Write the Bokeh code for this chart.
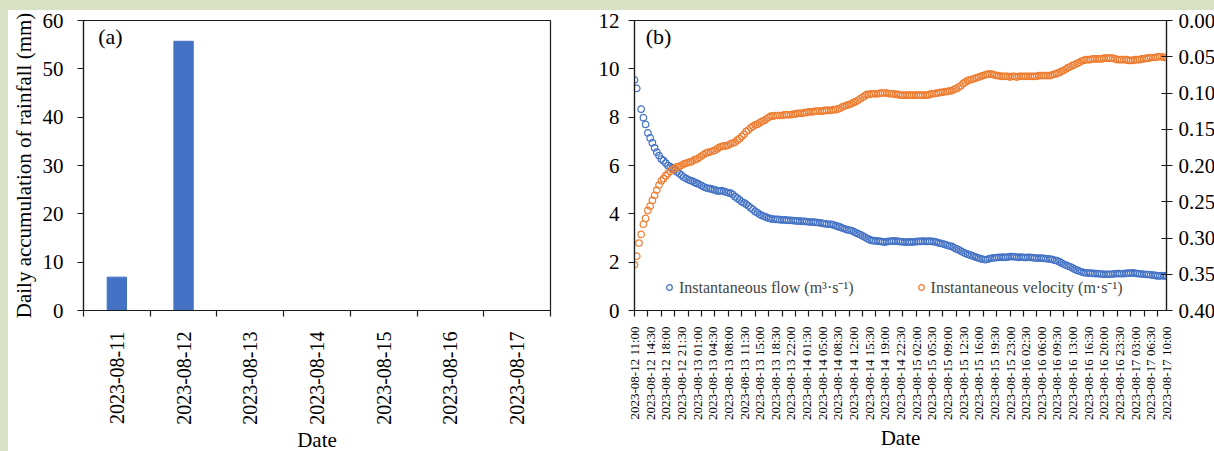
import math
import re
from bokeh.plotting import figure
from bokeh.layouts import row
from bokeh.models import (Range1d, LinearAxis, FixedTicker, Legend, LegendItem,
                          Label, NumeralTickFormatter, ColumnDataSource)
from bokeh.embed import file_html
from bokeh.resources import INLINE

nan = float("nan")

# ---------------- data ----------------
rain_dates = ["2023-08-11", "2023-08-12", "2023-08-13", "2023-08-14",
              "2023-08-15", "2023-08-16", "2023-08-17"]
rain_mm = [6.9, 55.7, 0, 0, 0, 0, 0]

time_labels = [
    "2023-08-12 11:00", "2023-08-12 14:30", "2023-08-12 18:00", "2023-08-12 21:30",
    "2023-08-13 01:00", "2023-08-13 04:30", "2023-08-13 08:00", "2023-08-13 11:30",
    "2023-08-13 15:00", "2023-08-13 18:30", "2023-08-13 22:00", "2023-08-14 01:30",
    "2023-08-14 05:00", "2023-08-14 08:30", "2023-08-14 12:00", "2023-08-14 15:30",
    "2023-08-14 19:00", "2023-08-14 22:30", "2023-08-15 02:00", "2023-08-15 05:30",
    "2023-08-15 09:00", "2023-08-15 12:30", "2023-08-15 16:00", "2023-08-15 19:30",
    "2023-08-15 23:00", "2023-08-16 02:30", "2023-08-16 06:00", "2023-08-16 09:30",
    "2023-08-16 13:00", "2023-08-16 16:30", "2023-08-16 20:00", "2023-08-16 23:30",
    "2023-08-17 03:00", "2023-08-17 06:30", "2023-08-17 10:00",
]

flow = [
    9.54, 9.19, nan, 8.33, 7.98, 7.70, 7.35, 7.14, 6.94, 6.73,
    6.55, 6.41, 6.27, 6.20, 6.10, 6.00, 5.95, 5.90, 5.82, 5.74,
    5.68, 5.60, 5.52, 5.47, 5.42, 5.38, 5.35, 5.30, 5.26, 5.22,
    5.17, 5.12, 5.08, 5.05, 5.04, 5.01, 4.99, 4.95, 4.94, 4.96,
    4.93, 4.90, 4.87, 4.86, 4.80, 4.71, 4.65, 4.58, 4.50, 4.45,
    4.40, 4.33, 4.25, 4.18, 4.10, 4.04, 3.98, 3.93, 3.90, 3.86,
    3.82, 3.80, 3.78, 3.77, 3.77, 3.76, 3.75, 3.75, 3.74, 3.73,
    3.73, 3.72, 3.71, 3.70, 3.70, 3.69, 3.69, 3.68, 3.67, 3.66,
    3.66, 3.65, 3.64, 3.63, 3.61, 3.59, 3.58, 3.57, 3.57, 3.54,
    3.51, 3.48, 3.45, 3.41, 3.38, 3.35, 3.33, 3.31, 3.27, 3.22,
    3.18, 3.14, 3.09, 3.04, 2.99, 2.94, 2.90, 2.89, 2.88, 2.87,
    2.86, 2.84, 2.83, 2.85, 2.86, 2.87, 2.88, 2.87, 2.86, 2.85,
    2.84, 2.83, 2.83, 2.84, 2.83, 2.84, 2.85, 2.86, 2.86, 2.87,
    2.86, 2.86, 2.87, 2.86, 2.85, 2.83, 2.80, 2.78, 2.76, 2.73,
    2.70, 2.67, 2.65, 2.60, 2.55, 2.51, 2.46, 2.41, 2.37, 2.33,
    2.30, 2.27, 2.23, 2.20, 2.17, 2.14, 2.12, 2.10, 2.12, 2.15,
    2.17, 2.18, 2.19, 2.20, 2.20, 2.21, 2.20, 2.21, 2.23, 2.23,
    2.22, 2.21, 2.20, 2.21, 2.20, 2.19, 2.20, 2.20, 2.19, 2.18,
    2.17, 2.17, 2.17, 2.16, 2.15, 2.14, 2.13, 2.11, 2.08, 2.06,
    2.02, 1.97, 1.92, 1.88, 1.84, 1.81, 1.76, 1.71, 1.67, 1.63,
    1.60, 1.57, 1.56, 1.55, 1.55, 1.54, 1.53, 1.53, 1.52, 1.51,
    1.50, 1.50, 1.50, 1.50, 1.51, 1.52, 1.53, 1.53, 1.52, 1.53,
    1.54, 1.55, 1.55, 1.56, 1.54, 1.53, 1.52, 1.51, 1.50, 1.49,
    1.49, 1.48, 1.46, 1.45, 1.43, 1.43, 1.44, 1.43, 1.43,
]

velocity = [
    0.337, 0.325, 0.307, 0.295, 0.281, 0.273, 0.262, 0.256, 0.248, 0.241,
    0.234, 0.227, 0.221, 0.218, 0.214, 0.211, 0.208, 0.206, 0.204, 0.202,
    0.201, 0.200, 0.198, 0.197, 0.196, 0.195, 0.194, 0.192, 0.191, 0.189,
    0.187, 0.185, 0.183, 0.182, 0.181, 0.180, 0.179, 0.177, 0.175, 0.174,
    0.173, 0.173, 0.172, 0.170, 0.169, 0.168, 0.165, 0.163, 0.160, 0.157,
    0.153, 0.151, 0.148, 0.146, 0.144, 0.143, 0.141, 0.139, 0.138, 0.136,
    0.134, 0.132, 0.132, 0.131, 0.131, 0.131, 0.131, 0.130, 0.130, 0.130,
    0.130, 0.129, 0.129, 0.128, 0.128, 0.128, 0.127, 0.127, 0.126, 0.126,
    0.126, 0.125, 0.125, 0.125, 0.125, 0.124, 0.124, 0.124, 0.124, 0.123,
    0.123, 0.122, 0.121, 0.119, 0.118, 0.117, 0.116, 0.115, 0.113, 0.112,
    0.110, 0.108, 0.106, 0.104, 0.102, 0.102, 0.101, 0.101, 0.101, 0.101,
    0.100, 0.100, 0.100, 0.100, 0.101, 0.101, 0.101, 0.102, 0.102, 0.103,
    0.103, 0.103, 0.103, 0.103, 0.103, 0.103, 0.103, 0.103, 0.103, 0.103,
    0.103, 0.103, 0.102, 0.101, 0.101, 0.100, 0.100, 0.099, 0.099, 0.098,
    0.098, 0.097, 0.097, 0.095, 0.094, 0.092, 0.090, 0.087, 0.085, 0.083,
    0.082, 0.081, 0.080, 0.079, 0.078, 0.077, 0.076, 0.075, 0.074, 0.074,
    0.074, 0.075, 0.076, 0.076, 0.077, 0.077, 0.077, 0.077, 0.078, 0.077,
    0.077, 0.078, 0.077, 0.077, 0.077, 0.077, 0.077, 0.077, 0.077, 0.077,
    0.077, 0.076, 0.076, 0.076, 0.076, 0.076, 0.076, 0.075, 0.074, 0.073,
    0.072, 0.070, 0.069, 0.067, 0.065, 0.064, 0.062, 0.061, 0.059, 0.058,
    0.056, 0.055, 0.054, 0.054, 0.054, 0.053, 0.053, 0.053, 0.053, 0.053,
    0.052, 0.052, 0.052, 0.052, 0.052, 0.053, 0.054, 0.054, 0.054, 0.054,
    0.054, 0.055, 0.055, 0.055, 0.054, 0.054, 0.054, 0.053, 0.053, 0.052,
    0.052, 0.051, 0.051, 0.051, 0.050, 0.050, 0.050, 0.051, 0.051,
]

flow_ticks = [0, 2, 4, 6, 8, 10, 12]
vel_ticks = [0.0, 0.05, 0.10, 0.15, 0.20, 0.25, 0.30, 0.35, 0.40]
rain_ticks = [0, 10, 20, 30, 40, 50, 60]

# ---------------- style ----------------
SERIF = "Liberation Serif"
BLUE = "#4472C4"
ORANGE = "#ED7D31"
TICK = "21px"
AX = "#1a1a1a"
PAGE_BG = "#d9e1c4"


def style_axis(ax, label_size=TICK, title_size="21px"):
    ax.axis_line_color = AX
    ax.axis_line_width = 1.2
    ax.major_tick_line_color = AX
    ax.minor_tick_line_color = AX
    ax.major_tick_line_width = 1.2
    ax.minor_tick_line_width = 1.2
    ax.major_label_text_font = SERIF
    ax.major_label_text_font_size = label_size
    ax.major_label_text_color = "black"
    ax.axis_label_text_font = SERIF
    ax.axis_label_text_font_size = title_size
    ax.axis_label_text_font_style = "normal"
    ax.axis_label_text_color = "black"


def base_fig(frame_w, left, right):
    p = figure(frame_width=frame_w, frame_height=290, output_backend="svg",
               toolbar_location=None,
               min_border_left=left, min_border_right=right,
               min_border_top=10, min_border_bottom=141)
    p.background_fill_color = "white"
    p.border_fill_color = "white"
    p.outline_line_color = AX
    p.outline_line_width = 1.2
    p.xgrid.visible = False
    p.ygrid.visible = False
    return p


# ---------------- panel (a) ----------------
fa = base_fig(467, 72, 33)
fa.x_range = Range1d(-0.5, len(rain_dates) - 0.5)
fa.y_range = Range1d(rain_ticks[0], rain_ticks[-1])
src_a = ColumnDataSource(dict(x=list(range(len(rain_dates))), top=rain_mm))
fa.vbar(x="x", top="top", width=0.29, source=src_a, fill_color=BLUE, line_color=BLUE)

xa = fa.xaxis[0]
style_axis(xa, "20px")
xa.ticker = FixedTicker(ticks=list(range(len(rain_dates))),
                        minor_ticks=[k - 0.5 for k in range(len(rain_dates) + 1)])
xa.major_label_overrides = {k: d for k, d in enumerate(rain_dates)}
xa.major_label_orientation = math.pi / 2
xa.major_tick_out = 0
xa.major_tick_in = 0
xa.minor_tick_out = 6
xa.minor_tick_in = 0
xa.major_label_standoff = 15
xa.axis_label = "Date"
xa.axis_label_standoff = 0

ya = fa.yaxis[0]
style_axis(ya, TICK, "21px")
ya.ticker = FixedTicker(ticks=rain_ticks)
ya.major_tick_out = 6
ya.major_tick_in = 0
ya.major_label_standoff = 14
ya.axis_label = "Daily accumulation of rainfall (mm)"
ya.axis_label_standoff = 4

fa.add_layout(Label(x=-0.28, y=59.2, text="(a)", text_font=SERIF, text_font_size="22px",
                    text_baseline="top", text_color="black"))

# ---------------- panel (b) ----------------
fb = base_fig(532, 51, 51)
n = len(flow)
fb.x_range = Range1d(0, n - 1)
fb.y_range = Range1d(flow_ticks[0], flow_ticks[-1])
fb.extra_y_ranges = {"vel": Range1d(vel_ticks[-1], vel_ticks[0])}

src_b = ColumnDataSource(dict(x=list(range(n)), flow=flow, vel=velocity))
r_flow = fb.scatter(x="x", y="flow", source=src_b, marker="circle", size=6.5,
                    fill_color=None, line_color=BLUE, line_width=1.2)
r_vel = fb.scatter(x="x", y="vel", source=src_b, marker="circle", size=6.5,
                   fill_color=None, line_color=ORANGE, line_width=1.2,
                   y_range_name="vel")

xb = fb.xaxis[0]
style_axis(xb, "13px")
xb.ticker = FixedTicker(ticks=list(range(0, n, 7)), minor_ticks=list(range(0, n, 6)))
xb.major_label_overrides = {7 * k: t for k, t in enumerate(time_labels)}
xb.major_label_orientation = math.pi / 2
xb.major_tick_out = 0
xb.major_tick_in = 0
xb.minor_tick_out = 6
xb.minor_tick_in = 0
xb.major_label_standoff = 10
xb.axis_label = "Date"
xb.axis_label_standoff = 3

yb = fb.yaxis[0]
style_axis(yb)
yb.ticker = FixedTicker(ticks=flow_ticks)
yb.major_tick_out = 6
yb.major_tick_in = 0
yb.major_label_standoff = 9

yr = LinearAxis(y_range_name="vel", ticker=FixedTicker(ticks=vel_ticks),
                formatter=NumeralTickFormatter(format="0.00"))
style_axis(yr)
yr.major_tick_out = 6
yr.major_tick_in = 5
yr.major_label_standoff = 6
fb.add_layout(yr, "right")

legend = Legend(items=[LegendItem(label="Instantaneous flow (m\u00b3\u00b7s\u207b\u00b9)", renderers=[r_flow]),
                       LegendItem(label="Instantaneous velocity (m\u00b7s\u207b\u00b9)", renderers=[r_vel])],
                orientation="horizontal", location=(28, 12))
legend.background_fill_alpha = 0
legend.border_line_alpha = 0
legend.label_text_font = SERIF
legend.label_text_font_size = "16px"
legend.glyph_width = 14
legend.glyph_height = 16
legend.label_standoff = 3
legend.spacing = 60
legend.padding = 0
legend.margin = 0
fb.add_layout(legend)

fb.add_layout(Label(x=5, y=11.85, text="(b)", text_font=SERIF, text_font_size="22px",
                    text_baseline="top", text_color="black"))

layout = row(fa, fb, spacing=0, styles={"background-color": "white"})

html = file_html(layout, INLINE)
page_style = ("<style>html, body { margin: 0 !important; background: %s !important; "
              "overflow: hidden !important; } "
              "body { padding: 10px 0 0 8px !important; box-sizing: border-box !important; }"
              "</style>" % PAGE_BG)
html = html.replace("</head>", page_style + "</head>", 1)
html = re.sub(r"<body([^>]*)>", r'<body\1 style="margin:0;padding:10px 0 0 8px;background:%s;">' % PAGE_BG,
              html, count=1)
open("out.html", "w").write(html)
